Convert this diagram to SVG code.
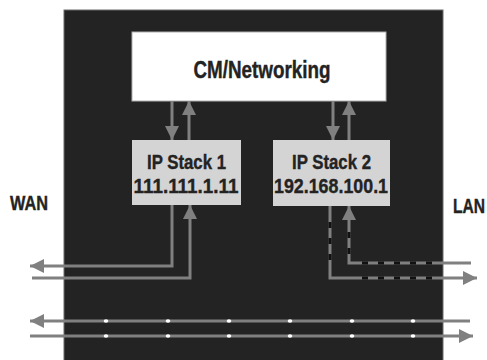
<svg xmlns="http://www.w3.org/2000/svg" width="487" height="360" viewBox="0 0 487 360">
<style>
  .t{font-family:"Liberation Sans","Arial",sans-serif;font-weight:bold;fill:#232323;stroke:#232323;stroke-width:0.4}
  .ln{stroke:#808080;stroke-width:3;fill:none}
  .dash{stroke:#111;stroke-width:3;fill:none;stroke-dasharray:6 10}
  .dot{fill:#ffffff}
</style>
<defs>
  <marker id="ah" viewBox="0 0 14 14" refX="14" refY="7" markerWidth="14" markerHeight="14" markerUnits="userSpaceOnUse" orient="auto">
    <path d="M0,0 L14,7 L0,14 z" fill="#808080"/>
  </marker>
</defs>
<rect width="487" height="360" fill="#ffffff"/>
<rect id="background" x="64" y="10" width="379" height="352" fill="#232323" stroke="#6a6a6a" stroke-width="1"/>

<g id="cm">
  <rect x="132" y="32" width="254" height="69" fill="#ffffff" stroke="#b0b0b0" stroke-width="1"/>
  <text class="t" x="262" y="78" font-size="24" text-anchor="middle" textLength="137" lengthAdjust="spacingAndGlyphs">CM/Networking</text>
</g>
<g id="ipstack1">
  <rect x="132" y="140" width="109" height="65" fill="#d4d4d4"/>
  <text class="t" x="186.5" y="169" font-size="21" text-anchor="middle" textLength="79" lengthAdjust="spacingAndGlyphs">IP Stack 1</text>
  <text class="t" x="186" y="193" font-size="21" text-anchor="middle" textLength="105" lengthAdjust="spacingAndGlyphs">111.111.1.11</text>
</g>
<g id="ipstack2">
  <rect x="273" y="140" width="117" height="66" fill="#d4d4d4"/>
  <text class="t" x="331.5" y="169" font-size="21" text-anchor="middle" textLength="79" lengthAdjust="spacingAndGlyphs">IP Stack 2</text>
  <text class="t" x="331" y="193" font-size="21" text-anchor="middle" textLength="114" lengthAdjust="spacingAndGlyphs">192.168.100.1</text>
</g>
<g id="wan">
  <text class="t" x="10" y="210" font-size="20" textLength="38" lengthAdjust="spacingAndGlyphs">WAN</text>
</g>
<g id="lan">
  <text class="t" transform="translate(453,213) scale(0.78,1)" x="0" y="0" font-size="20">LAN</text>
</g>

<g id="connectors">
  <line class="ln" x1="172" y1="101" x2="172" y2="140" marker-end="url(#ah)"/>
  <line class="ln" x1="189" y1="140" x2="189" y2="101" marker-end="url(#ah)"/>
  <line class="ln" x1="333" y1="101" x2="333" y2="140" marker-end="url(#ah)"/>
  <line class="ln" x1="349" y1="140" x2="349" y2="101" marker-end="url(#ah)"/>

  <polyline class="ln" points="172,205 172,266 30,266" marker-end="url(#ah)"/>
  <polyline class="ln" points="32,278 190,278 190,205" marker-end="url(#ah)"/>

  <polyline class="ln" points="330,206 330,278 477,278" marker-end="url(#ah)"/>
  <polyline class="ln" points="471,263 349,263 349,206" marker-end="url(#ah)"/>
  <line class="dash" x1="330" y1="222" x2="330" y2="262"/>
  <line class="dash" x1="349" y1="232" x2="349" y2="258"/>
  <line class="dash" x1="362" y1="263" x2="434" y2="263"/>
  <line class="dash" x1="362" y1="278" x2="434" y2="278"/>

  <line class="ln" x1="470" y1="321" x2="30" y2="321" marker-end="url(#ah)"/>
  <line class="ln" x1="30" y1="336" x2="473" y2="336" marker-end="url(#ah)"/>
  <g id="dots">
    <ellipse class="dot" cx="106" cy="321" rx="2.3" ry="1.8"/>
    <ellipse class="dot" cx="168" cy="321" rx="2.3" ry="1.8"/>
    <ellipse class="dot" cx="229" cy="321" rx="2.3" ry="1.8"/>
    <ellipse class="dot" cx="290" cy="321" rx="2.3" ry="1.8"/>
    <ellipse class="dot" cx="352" cy="321" rx="2.3" ry="1.8"/>
    <ellipse class="dot" cx="413" cy="321" rx="2.3" ry="1.8"/>
    <ellipse class="dot" cx="106" cy="336" rx="2.3" ry="1.8"/>
    <ellipse class="dot" cx="168" cy="336" rx="2.3" ry="1.8"/>
    <ellipse class="dot" cx="229" cy="336" rx="2.3" ry="1.8"/>
    <ellipse class="dot" cx="290" cy="336" rx="2.3" ry="1.8"/>
    <ellipse class="dot" cx="352" cy="336" rx="2.3" ry="1.8"/>
    <ellipse class="dot" cx="413" cy="336" rx="2.3" ry="1.8"/>
  </g>
</g>
</svg>
